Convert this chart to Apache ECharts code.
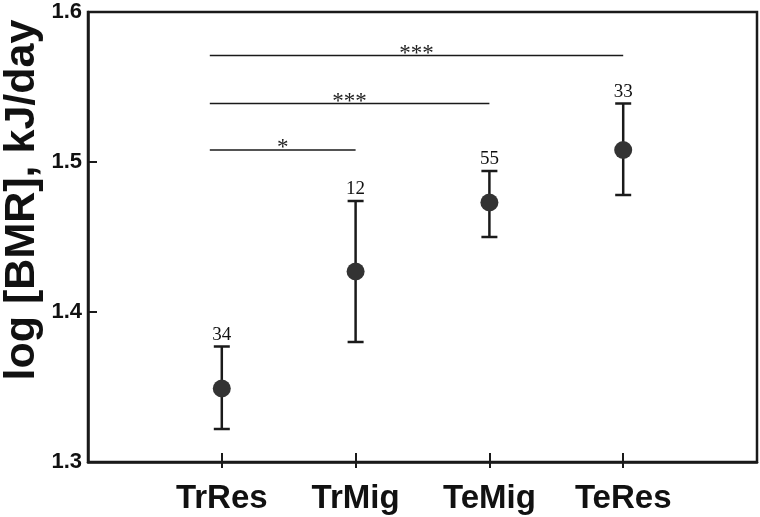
<!DOCTYPE html>
<html>
<head>
<meta charset="utf-8">
<script src="https://cdn.jsdelivr.net/npm/echarts@6/dist/echarts.min.js"></script>
<style>html,body{margin:0;padding:0;background:#fff}#c{width:760px;height:517px}</style>
</head>
<body>
<div id="c"></div>
<script>
const categories = ['TrRes', 'TrMig', 'TeMig', 'TeRes'];
const means = [1.349, 1.427, 1.473, 1.508];
const upper = [1.377, 1.474, 1.494, 1.539];
const lower = [1.322, 1.380, 1.450, 1.478];
const sampleSizes = [34, 12, 55, 33];
const yTicks = [1.3, 1.4, 1.5, 1.6];
const sigFrom = [0, 0, 0];
const sigTo = [1, 2, 3];
const sigY = [1.508, 1.539, 1.571];
const sigLabels = ['*', '***', '***'];
const yTitle = 'log [BMR], kJ/day';

const chart = echarts.init(document.getElementById('c'));
const ink = '#1a1a1a';
const catPos = categories.map((c, i) => i + 1);

const option = {
  animation: false,
  grid: { left: 88, right: 3, top: 12, bottom: 55, show: true, borderColor: ink, borderWidth: 2.5, backgroundColor: 'transparent' },
  xAxis: [{
    type: 'value', min: 0, max: 5, interval: 1,
    axisLine: { show: true, lineStyle: { color: ink, width: 2.5 } },
    splitLine: { show: false },
    axisTick: { show: true, inside: true, length: 9, customValues: catPos, lineStyle: { color: ink, width: 2 } },
    axisLabel: { customValues: catPos, formatter: v => categories[Math.round(v) - 1] || '', color: '#111', fontFamily: 'Liberation Sans', fontWeight: 'bold', fontSize: 33, margin: 20 }
  }, {
    type: 'value', min: 0, max: 5, interval: 1, position: 'bottom', gridIndex: 0,
    axisLine: { show: false },
    splitLine: { show: false },
    axisTick: { show: true, inside: false, length: 6, customValues: catPos, lineStyle: { color: ink, width: 2 } },
    axisLabel: { show: false }
  }],
  yAxis: {
    type: 'value', min: yTicks[0], max: yTicks[yTicks.length - 1], interval: 0.1,
    axisLine: { show: true, lineStyle: { color: ink, width: 2.5 } },
    splitLine: { show: false },
    axisTick: { show: true, inside: true, length: 9, lineStyle: { color: ink, width: 2 } },
    axisLabel: { formatter: v => v.toFixed(1), color: '#111', fontFamily: 'Liberation Sans', fontWeight: 'bold', fontSize: 22, margin: 6 }
  },
  graphic: [{
    type: 'text', x: 22, y: 200, rotation: Math.PI / 2,
    style: { text: yTitle, fill: '#111', font: 'bold 43px "Liberation Sans"', textAlign: 'center', textVerticalAlign: 'middle' }
  }],
  series: [{
    type: 'custom',
    xAxisIndex: 0,
    data: categories.map((c, i) => [i + 1, upper[i], lower[i], sampleSizes[i]]),
    renderItem: (params, api) => {
      const x = api.value(0);
      const pHi = api.coord([x, api.value(1)]);
      const pLo = api.coord([x, api.value(2)]);
      const h = 8;
      const st = { stroke: ink, lineWidth: 2.5 };
      return {
        type: 'group', children: [
          { type: 'line', shape: { x1: pHi[0], y1: pHi[1], x2: pLo[0], y2: pLo[1] }, style: st },
          { type: 'line', shape: { x1: pHi[0] - h, y1: pHi[1], x2: pHi[0] + h, y2: pHi[1] }, style: st },
          { type: 'line', shape: { x1: pLo[0] - h, y1: pLo[1], x2: pLo[0] + h, y2: pLo[1] }, style: st },
          { type: 'text', x: pHi[0], y: pHi[1] - 2, style: { text: String(api.value(3)), fill: '#111', font: '19px "Liberation Serif"', textAlign: 'center', textVerticalAlign: 'bottom' } }
        ]
      };
    },
    z: 2
  }, {
    type: 'scatter',
    data: categories.map((c, i) => [i + 1, means[i]]),
    symbol: 'circle', symbolSize: 18,
    itemStyle: { color: '#333', opacity: 1 },
    z: 3
  }, {
    type: 'custom',
    data: sigFrom.map((f, i) => [f + 1, sigTo[i] + 1, sigY[i]]),
    renderItem: (params, api) => {
      const p1 = api.coord([api.value(0), api.value(2)]);
      const p2 = api.coord([api.value(1), api.value(2)]);
      const x1 = p1[0] - 12, x2 = p2[0];
      return {
        type: 'group', children: [
          { type: 'line', shape: { x1: x1, y1: p1[1], x2: x2, y2: p2[1] }, style: { stroke: ink, lineWidth: 1.5 } },
          { type: 'text', x: (x1 + x2) / 2, y: p1[1] - 2, style: { text: sigLabels[params.dataIndex], fill: '#222', font: '23px "Liberation Serif"', textAlign: 'center', textVerticalAlign: 'middle' } }
        ]
      };
    },
    z: 2
  }]
};
chart.setOption(option);
</script>
</body>
</html>
